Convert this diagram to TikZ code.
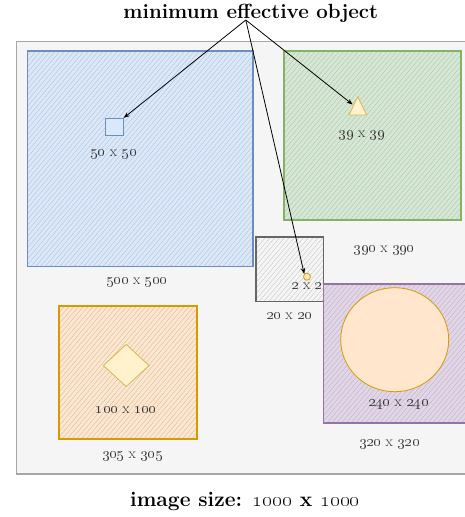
\RequirePackage{fix-cm}
\documentclass[tikz,border=0pt]{standalone}
\usetikzlibrary{shapes.geometric,arrows.meta}

\definecolor{frameFill}{HTML}{F5F5F5}
\definecolor{frameLine}{HTML}{A6A6A6}
\definecolor{blueFill}{HTML}{DAE8FC}
\definecolor{blueLine}{HTML}{6C8EBF}
\definecolor{greenFill}{HTML}{D5E8D4}
\definecolor{greenLine}{HTML}{82B366}
\definecolor{grayFill}{HTML}{F5F5F5}
\definecolor{grayLine}{HTML}{666666}
\definecolor{purpleFill}{HTML}{E1D5E7}
\definecolor{purpleLine}{HTML}{9673A6}
\definecolor{orangeFill}{HTML}{FFE6CC}
\definecolor{orangeLine}{HTML}{D79B00}
\definecolor{yellowFill}{HTML}{FFF2CC}
\definecolor{yellowLine}{HTML}{D6B656}
\definecolor{labelText}{HTML}{333333}

% size label with old-style figures, e.g. "500 x 500"
\newcommand\sizelabel[2]{\oldstylenums{#1} x \oldstylenums{#2}}

\begin{document}
\begin{tikzpicture}[x=1pt,y=-1pt,
  hatchline/.style={draw=black!50, line width=0.3pt, opacity=0.45},
  hatched/.style={path picture={
    \foreach \k in {0,...,115}{
      \draw[hatchline] ([xshift=\k*4.8pt-280pt]path picture bounding box.south west) -- ++(280pt,330pt);
    }}},
  imgbox/.style={rectangle, inner sep=0pt, anchor=north west, line width=1.7pt, hatched},
  shapeobj/.style={inner sep=0pt, line width=0.8pt},
  lbl/.style={text=labelText, font=\fontsize{15}{17}\selectfont, inner sep=0pt},
  ttl/.style={font=\fontsize{20.5}{23}\selectfont\bfseries, inner sep=0pt},
  captiontext/.style={font=\fontsize{21}{23}\selectfont\bfseries, inner sep=0pt},
  pointer/.style={-{Stealth[length=6pt,width=4.5pt]}, line width=0.8pt}
]
\useasboundingbox (0,0) rectangle (464,517);

% outer canvas
\node[rectangle, inner sep=0pt, anchor=north west, fill=frameFill, draw=frameLine, line width=1.2pt,
      minimum width=460pt, minimum height=432.6pt] (frame) at (16,40.7) {};

% image tiles
\node[imgbox, fill=blueFill, draw=blueLine, minimum width=225.6pt, minimum height=215.7pt] (blue) at (26.7,50) {};
\node[imgbox, fill=greenFill, draw=greenLine, minimum width=176.7pt, minimum height=169pt] (green) at (283.3,50) {};
\node[imgbox, fill=grayFill, draw=grayLine, minimum width=67.7pt, minimum height=64.7pt] (gray) at (255,236) {};
\node[imgbox, fill=purpleFill, draw=purpleLine, minimum width=150pt, minimum height=139pt] (purple) at (322.7,283.3) {};
\node[imgbox, fill=orangeFill, draw=orangeLine, minimum width=138pt, minimum height=133.3pt] (orange) at (58,305) {};

% objects inside the tiles
\node[shapeobj, rectangle, fill=blueFill, draw=blueLine, minimum width=17.6pt, minimum height=17.4pt] (sq) at (114.5,127) {};
\draw[shapeobj, fill=yellowFill, draw=yellowLine, line join=round] (349,115) -- (357.7,96.7) -- (366.7,115) -- cycle;
\coordinate (tri) at (352.6,104.5);
\node[shapeobj, circle, fill=orangeFill, draw=orangeLine, minimum size=7pt] (dot) at (307,276.7) {};
\node[shapeobj, ellipse, fill=orangeFill, draw=orangeLine, minimum width=108pt, minimum height=104pt] (disc) at (394.7,339.7) {};
\node[shapeobj, diamond, fill=yellowFill, draw=yellowLine, minimum width=46pt, minimum height=42.4pt] (dia) at (126.2,365.5) {};

% size labels
\node[lbl] (l50) at (113.5,154.5) {\sizelabel{50}{50}};
\node[lbl] (l500) at (136.7,282.3) {\sizelabel{500}{500}};
\node[lbl] (l39) at (361.7,135.7) {\sizelabel{39}{39}};
\node[lbl] (l390) at (384,250.7) {\sizelabel{390}{390}};
\node[lbl] (l2) at (306.7,286.7) {\sizelabel{2}{2}};
\node[lbl] (l20) at (289,316) {\sizelabel{20}{20}};
\node[lbl] (l240) at (398.3,405) {\sizelabel{240}{240}};
\node[lbl] (l320) at (389.3,444.3) {\sizelabel{320}{320}};
\node[lbl] (l100) at (126,410.3) {\sizelabel{100}{100}};
\node[lbl] (l305) at (132.3,456.7) {\sizelabel{305}{305}};

% captions
\node[ttl] (title) at (250.8,13.3) {minimum effective object};
\node[captiontext] (caption) at (245,501) {image size: \oldstylenums{1000} x \oldstylenums{1000}};

% pointers to the smallest objects
\coordinate (src) at (245.8,20);
\draw[pointer] (src) -- (sq.north east);
\draw[pointer] (src) -- (tri);
\draw[pointer] (src) -- (dot.135);
\end{tikzpicture}
\end{document}
